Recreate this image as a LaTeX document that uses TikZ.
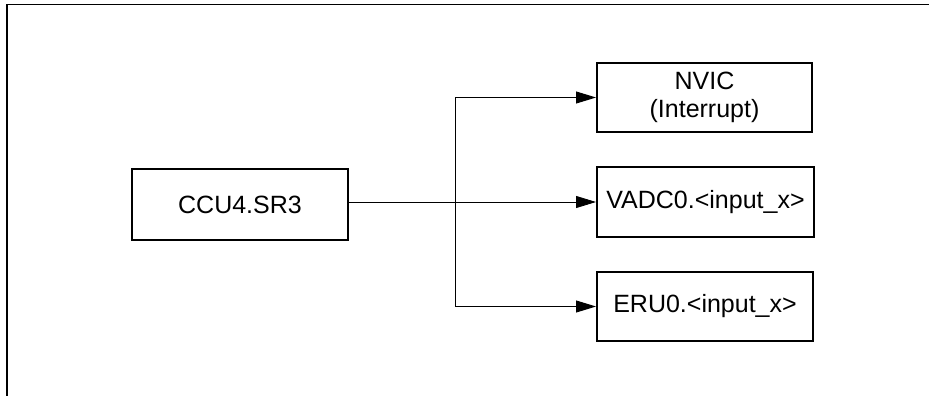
\documentclass[tikz,border=0pt]{standalone}
\usepackage{fontspec}
\setmainfont{Liberation Sans}
\usetikzlibrary{arrows.meta}
\begin{document}
\begin{tikzpicture}[x=1pt,y=-1pt,
  blk/.style={draw, line width=2pt, minimum width=216pt, minimum height=70pt, inner sep=0pt, align=center, font=\fontsize{25}{28}\selectfont},
  conn/.style={line width=0.9pt},
  arr/.style={conn, -{Triangle[length=20pt,width=12pt]}}]
\useasboundingbox (0,0) rectangle (929,396);
\draw[line width=1.4pt] (7,396) -- (7,4.5) -- (929,4.5);
\node[blk, minimum width=216pt, minimum height=71pt] (ccu) at (240,204.5) {CCU4.SR3};
\node[blk, minimum width=215pt, minimum height=69pt] (nvic) at (704.5,97.5) {NVIC\\(Interrupt)};
\node[blk, minimum width=217pt, minimum height=70pt] (vadc) at (705.5,202) {VADC0.<input\_x>};
\node[blk, minimum width=216pt, minimum height=69pt] (eru) at (705,306.5) {ERU0.<input\_x>};
\coordinate (j) at (455,202);
\draw[arr] (ccu.east |- vadc.west) -- (vadc.west);
\draw[conn] (j |- nvic.west) -- (j |- eru.west);
\draw[arr] (j |- nvic.west) -- (nvic.west);
\draw[arr] (j |- eru.west) -- (eru.west);
\end{tikzpicture}
\end{document}
